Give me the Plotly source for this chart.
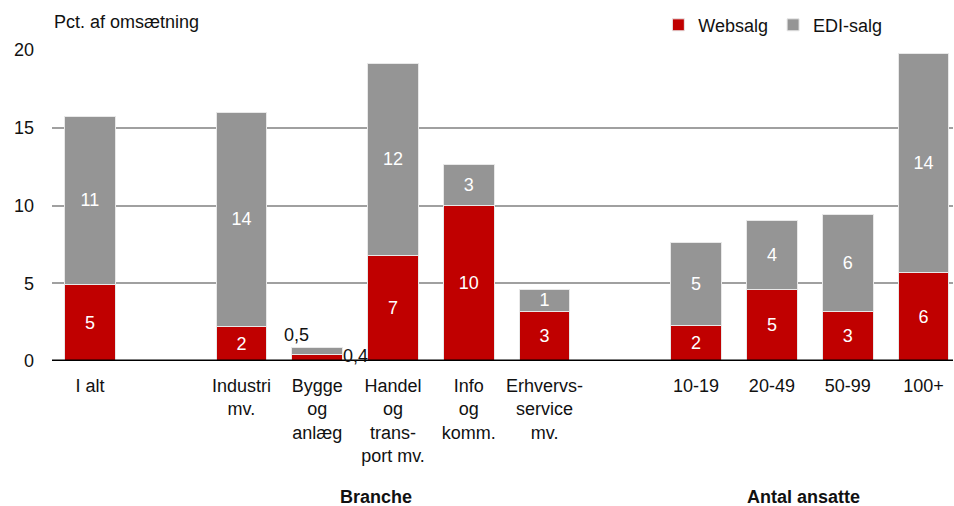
import plotly.graph_objects as go

categories = ["I alt", " ", "Industri<br>mv.", "Bygge<br>og<br>anlæg",
              "Handel<br>og<br>trans-<br>port mv.", "Info<br>og<br>komm.",
              "Erhvervs-<br>service<br>mv.", "  ", "10-19", "20-49", "50-99", "100+"]
websalg = [4.9, None, 2.2, 0.4, 6.8, 10.0, 3.2, None, 2.3, 4.6, 3.2, 5.7]
edisalg = [10.85, None, 13.8, 0.5, 12.35, 2.65, 1.4, None, 5.3, 4.45, 6.2, 14.05]
y_ticks = [0, 5, 10, 15, 20]

RED = "#C00000"
GRAY = "#959595"
FONT = "Liberation Sans Narrow, Arial Narrow, Liberation Sans, Arial, sans-serif"
FS = 18
TXT = "#111111"


def lab(v):
    if v is None or v < 1:
        return ""
    return f"{v:.0f}"


def dk(v):
    return f"{v:.1f}".replace(".", ",")


fig = go.Figure()
for name, vals, col in [("Websalg", websalg, RED), ("EDI-salg", edisalg, GRAY)]:
    fig.add_trace(go.Bar(
        x=categories, y=vals, name=name,
        marker=dict(color=col, line=dict(color="#e8e8e8", width=1)),
        text=[lab(v) for v in vals], textposition="inside",
        insidetextanchor="middle", textangle=0, constraintext="none",
        textfont=dict(color="white", size=FS, family=FONT),
        width=0.67, hoverinfo="skip"))

# small values shown outside the bar
i_small = 3
fig.add_annotation(x=categories[i_small], y=websalg[i_small] + edisalg[i_small],
                   text=dk(edisalg[i_small]), showarrow=False, xanchor="center",
                   yanchor="bottom", xshift=-21, yshift=0,
                   font=dict(size=FS, family=FONT, color=TXT))
fig.add_annotation(x=categories[i_small], y=websalg[i_small],
                   text=dk(websalg[i_small]), showarrow=False, xanchor="left",
                   yanchor="middle", xshift=24, yshift=-1,
                   font=dict(size=FS, family=FONT, color=TXT))

# zero line on top
fig.add_shape(type="line", xref="paper", yref="y", x0=0, x1=1, y0=0, y1=0,
              line=dict(color="black", width=3), layer="above")

fig.add_annotation(xref="paper", yref="paper", x=0, y=1.09, xanchor="left",
                   yanchor="middle", text="Pct. af omsætning", showarrow=False,
                   font=dict(size=FS, family=FONT, color=TXT))
fig.add_annotation(xref="paper", yref="paper", x=0.3596, y=-0.437,
                   xanchor="center", yanchor="middle", text="<b>Branche</b>",
                   showarrow=False, font=dict(size=FS, family=FONT, color=TXT))
fig.add_annotation(xref="paper", yref="paper", x=0.834, y=-0.437,
                   xanchor="center", yanchor="middle", text="<b>Antal ansatte</b>",
                   showarrow=False, font=dict(size=FS, family=FONT, color=TXT))

fig.update_layout(
    width=954, height=506,
    margin=dict(l=52, r=1, t=50, b=145, autoexpand=False),
    barmode="stack",
    plot_bgcolor="white", paper_bgcolor="white",
    font=dict(family=FONT, size=FS, color=TXT),
    showlegend=True,
    legend=dict(orientation="h", x=0.673, y=1.08, xanchor="left",
                yanchor="middle", font=dict(size=FS, family=FONT, color=TXT),
                itemwidth=30, traceorder="normal", bgcolor="rgba(0,0,0,0)"),
    xaxis=dict(type="category", categoryorder="array", categoryarray=categories,
               range=[-0.5, 11.39], showgrid=False, ticks="",
               showline=False, ticklabelstandoff=12, automargin=False,
               tickfont=dict(size=FS, family=FONT, color=TXT)),
    yaxis=dict(range=[0, 20], tickvals=y_ticks, showgrid=True,
               gridcolor="#a0a0a0", gridwidth=2, zeroline=False,
               showline=False, ticks="", ticklabelstandoff=17, automargin=False,
               tickfont=dict(size=FS, family=FONT, color=TXT)),
)

fig.write_html("out.html",
               config={"displayModeBar": False},
               post_script="document.body.style.margin='0';"
                           "document.body.style.padding='0';")
